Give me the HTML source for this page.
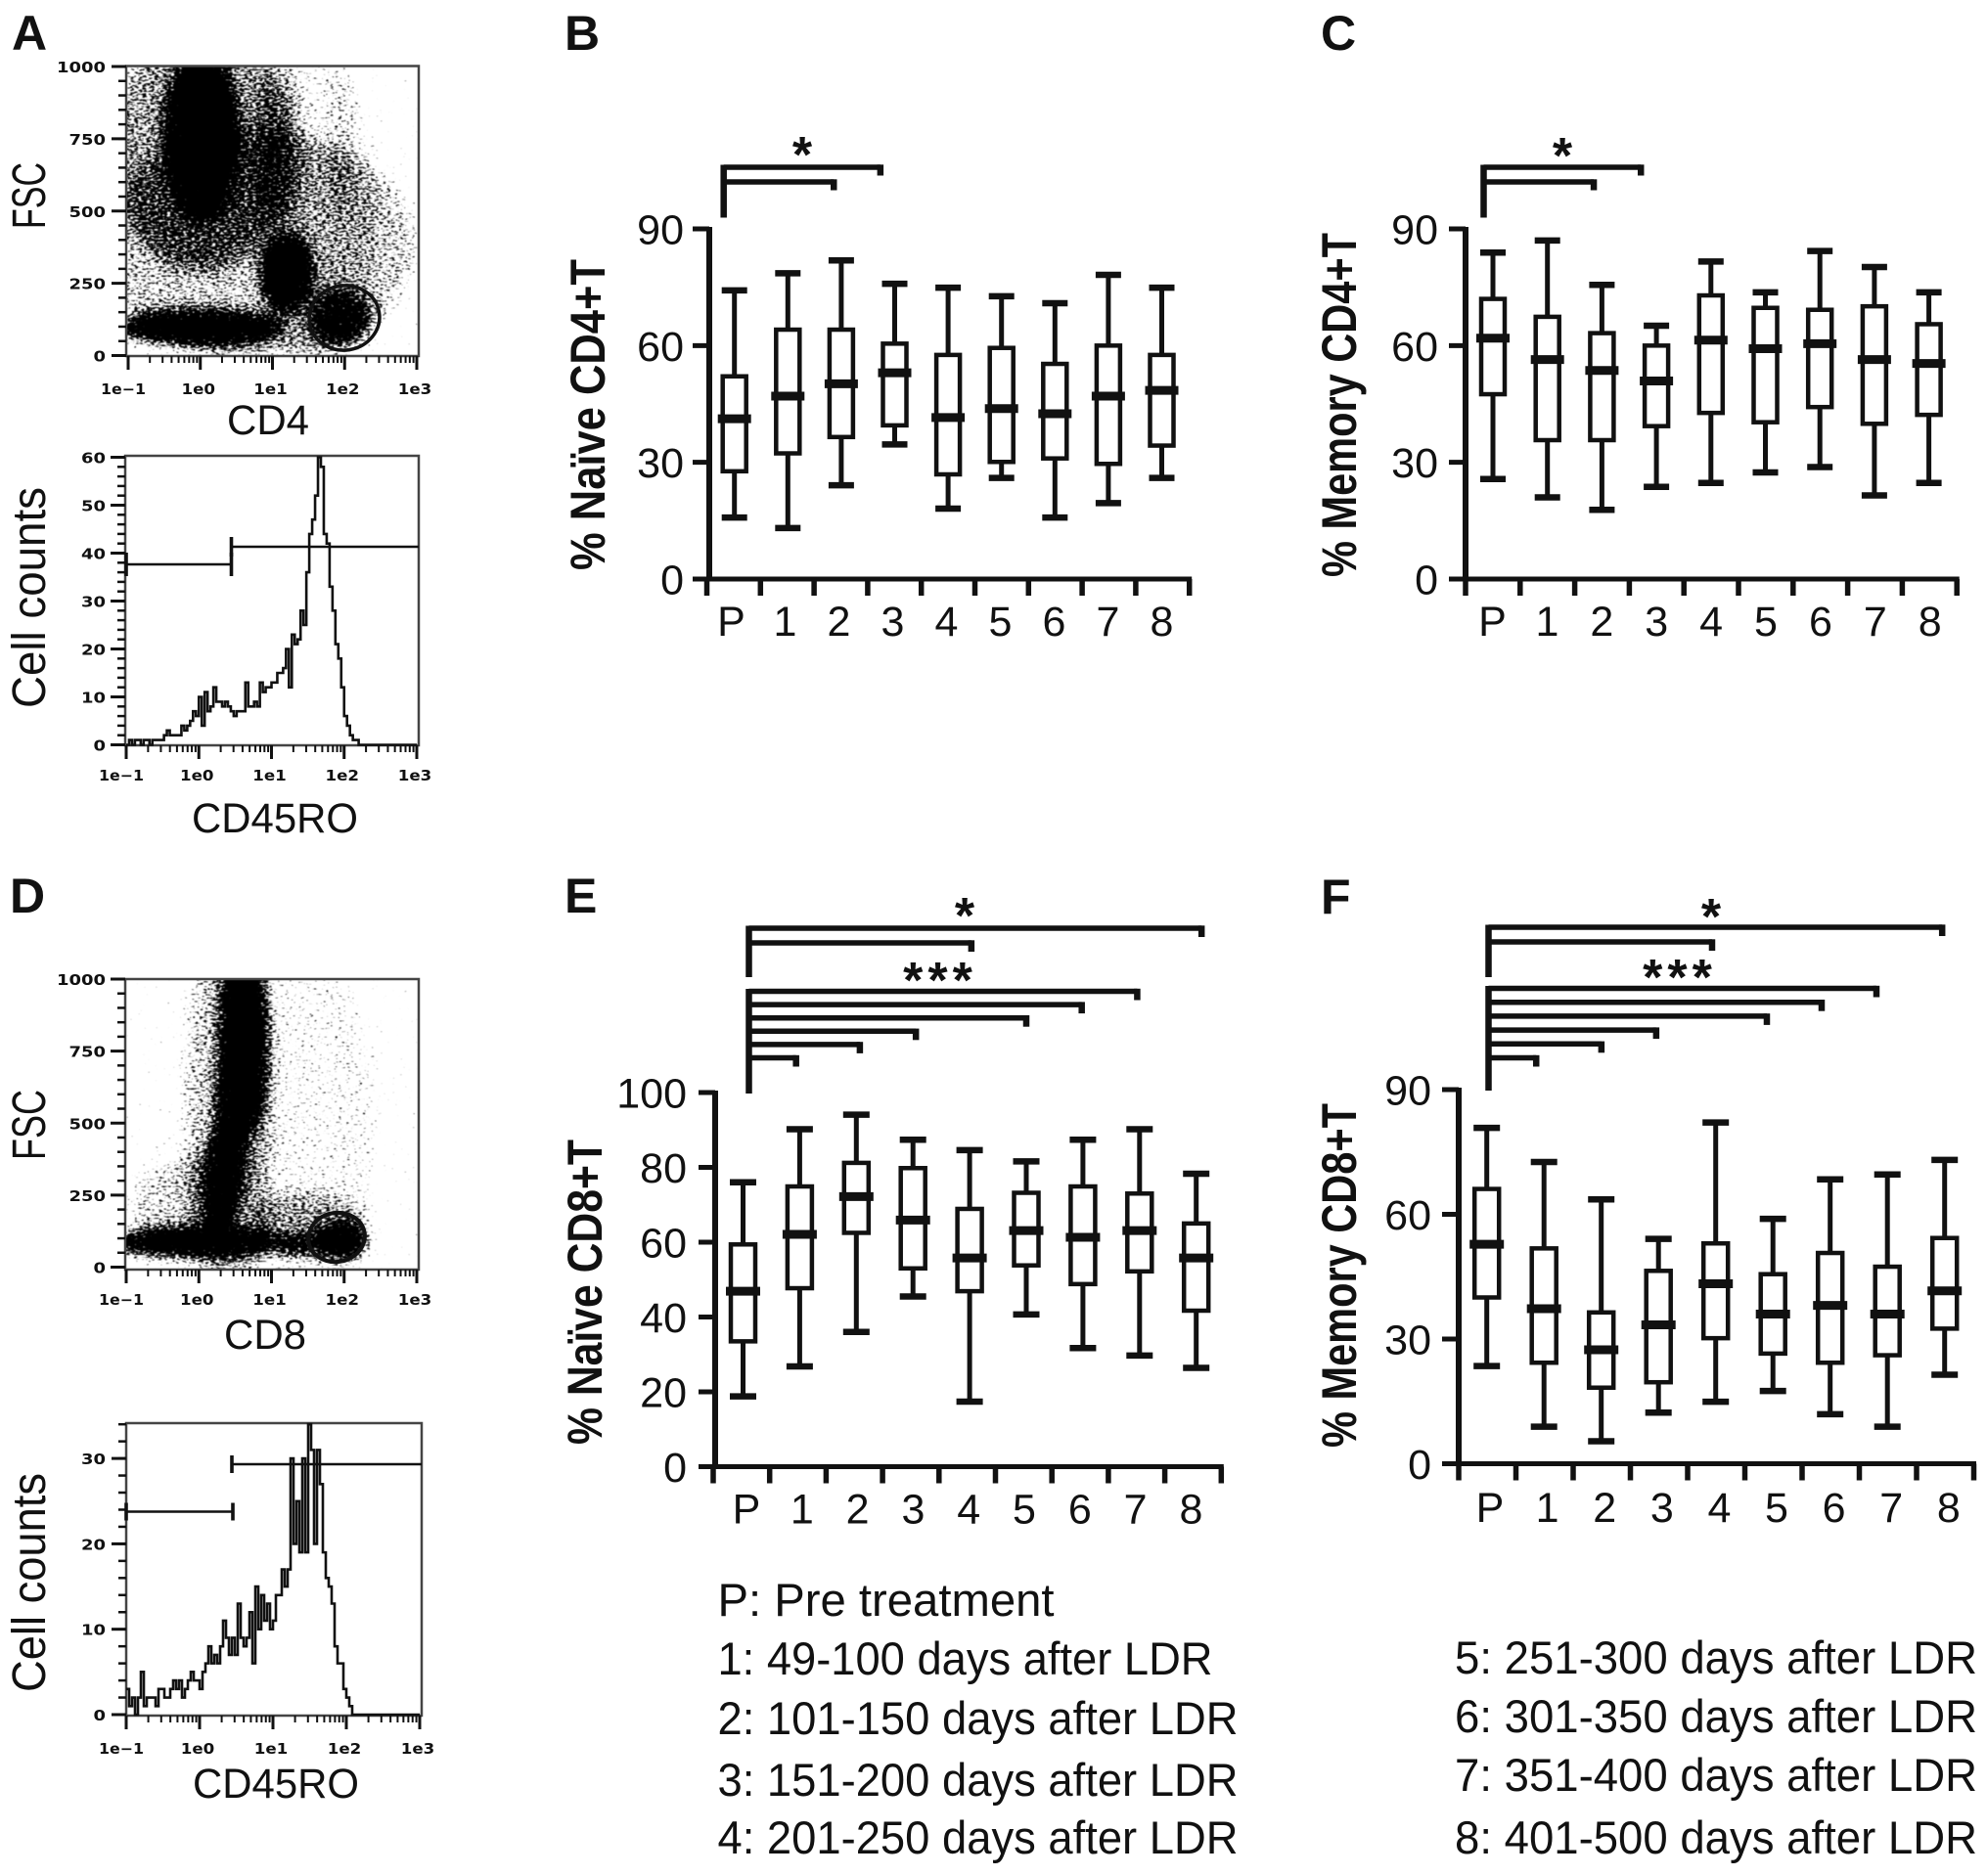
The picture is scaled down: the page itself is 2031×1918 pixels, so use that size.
<!DOCTYPE html>
<html lang="en">
<head>
<meta charset="utf-8">
<title>T cell subset flow cytometry and box plots</title>
<style>
html,body{margin:0;padding:0;background:#fff;}
svg{display:block;}
text{font-family:"Liberation Sans",sans-serif;fill:#111;}
.flow-tick{font-family:"DejaVu Sans",sans-serif;font-weight:bold;font-size:15px;}
</style>
</head>
<body>
<svg id="figure" xmlns="http://www.w3.org/2000/svg" width="2031" height="1918" viewBox="0 0 2031 1918">
<defs>
<filter id="density" filterUnits="userSpaceOnUse" x="100" y="40" width="360" height="1300" color-interpolation-filters="sRGB">
<feGaussianBlur in="SourceAlpha" stdDeviation="8" result="d"/>
<feTurbulence type="fractalNoise" baseFrequency="0.24 0.55" numOctaves="2" seed="7" result="n"/>
<feComposite in="d" in2="n" operator="arithmetic" k1="0" k2="0.8" k3="1" k4="-0.8" result="c"/>
<feColorMatrix in="c" type="matrix" values="0 0 0 0 0  0 0 0 0 0  0 0 0 0 0  0 0 0 9 0" result="s"/>
<feGaussianBlur in="s" stdDeviation="0.6"/>
</filter>
<clipPath id="clip-a"><rect x="129" y="68" width="299" height="296"/></clipPath>
<clipPath id="clip-d"><rect x="128" y="1001" width="300" height="297"/></clipPath>
</defs>
<g id="layer"></g>
</svg>
<script>
// ---------- categories and box plot values ----------
const groups = ['P','1','2','3','4','5','6','7','8'];

const bHigh   = [74.2,78.6,81.9,75.9,74.9,72.7,70.9,78.2,74.9];
const bQ3     = [52.1,64.1,64.1,60.5,57.6,59.4,55.3,60.0,57.6];
const bMedian = [41.2,47.0,50.2,53.0,41.5,43.8,42.5,47.0,48.5];
const bQ1     = [27.7,32.3,36.5,39.5,26.9,30.1,31.0,29.6,34.3];
const bLow    = [15.8,13.1,24.1,34.6,18.1,26.0,15.8,19.5,26.0];

const cHigh   = [83.9,87.0,75.6,65.1,81.6,73.7,84.3,80.2,73.7];
const cQ3     = [72.0,67.4,63.2,60.0,72.9,69.7,69.2,70.1,65.5];
const cMedian = [61.9,56.4,53.6,50.9,61.4,59.2,60.5,56.4,55.4];
const cQ1     = [47.5,35.7,35.7,39.3,42.7,40.3,44.2,39.9,42.2];
const cLow    = [25.7,21.0,17.8,23.7,24.7,27.4,28.8,21.5,24.7];

const eHigh   = [76.0,90.2,94.1,87.4,84.6,81.6,87.4,90.2,78.3];
const eQ3     = [59.4,74.9,81.2,79.8,68.9,73.2,74.9,73.0,65.0];
const eMedian = [46.9,62.1,72.2,65.9,55.8,63.1,61.3,63.1,55.8];
const eQ1     = [33.5,47.7,62.5,53.0,46.9,53.8,48.8,52.2,41.7];
const eLow    = [18.8,26.8,36.0,45.5,17.4,40.7,31.7,29.7,26.4];

const fHigh   = [80.8,72.6,63.6,54.1,82.1,58.9,68.4,69.6,73.1];
const fQ3     = [66.1,51.8,36.4,46.4,53.0,45.6,50.7,47.4,54.3];
const fMedian = [52.8,37.3,27.4,33.4,43.3,36.0,38.1,36.0,41.6];
const fQ1     = [40.0,24.3,18.3,19.6,30.2,26.5,24.3,26.1,32.5];
const fLow    = [23.5, 8.9, 5.4,12.3,14.9,17.5,11.9, 8.9,21.4];

const ticks90  = [0,30,60,90];
const ticks100 = [0,20,40,60,80,100];

// significance bracket end points, in group units from the bracket root
const bBracketEnds = [2.86,2.01];
const cBracketEnds = [2.87,2.01];
const eBracketEndsTop = [8.16,4.01];
const eBracketEndsLow = [7.0,6.0,5.0,3.01,2.0,0.85];
const fBracketEndsTop = [8.28,4.08];
const fBracketEndsLow = [7.08,6.08,5.08,3.06,2.06,0.87];

// ---------- histogram counts per 0.04-decade channel ----------
const histACounts = [0,1,0,1,1,0,1,1,0,1,1,1,1,2,3,2,2,2,2,4,3,4,5,7,6,10,4,11,7,8,12,9,9,8,9,8,7,6,7,7,7,13,8,8,9,8,13,11,12,12,13,13,15,15,16,20,12,23,21,22,28,25,36,44,47,52,60,58,44,42,33,28,21,18,12,6,4,2,1,1,0,0,0,0];
const histDCounts = [3,1,2,0,2,5,1,2,2,2,1,3,3,2,2,3,4,3,4,2,3,4,5,4,4,3,5,6,8,6,7,6,8,11,9,7,9,7,13,9,8,9,12,6,15,10,14,11,13,10,11,14,14,17,15,17,30,20,25,19,30,19,34,31,20,31,27,19,16,15,13,8,6,6,3,2,1,0];

// ---------- flow scatter density regions: log10 fluorescence, FSC, spreads, density ----------
const aRegionLog    = [0.8, 0.0, 0.02, 1.6, 1.95, 1.1, 1.2, 0.0, 1.95];
const aRegionFsc    = [380, 720, 760, 500, 750, 750, 285, 95, 125];
const aRegionLogSd  = [2.2, 1.25, 0.5, 0.85, 0.2, 0.34, 0.34, 1.15, 0.42];
const aRegionFscSd  = [400, 430, 290, 540, 290, 320, 135, 58, 100];
const aRegionDensity= [0.3, 0.4, 1.0, 0.14,0.14,0.26,1.0, 1.0, 0.72];

const dRegionLog    = [1.5, 0.4, -0.2, 1.5, 0.62, 0.45, 0.3, -0.05, 1.4, 1.97];
const dRegionFsc    = [480, 520, 210, 150, 800, 520, 270, 85, 78, 92];
const dRegionLogSd  = [0.95,0.62,0.75,0.8, 0.32,0.19,0.19,1.15,0.6, 0.34];
const dRegionFscSd  = [620, 720, 170, 115, 350, 330, 220, 50, 24, 62];
const dRegionDensity= [0.14,0.3, 0.26,0.3, 1.0, 1.0, 1.0, 1.0, 1.0, 1.0];

const fscTicks = [0,250,500,750,1000];
const logTicks = [-1,0,1,2,3];
const logTickLabels = ['1e\u22121','1e0','1e1','1e2','1e3'];
const histATicks = [0,10,20,30,40,50,60];
const histDTicks = [0,10,20,30];

const legendLeft = ['P: Pre treatment','1: 49-100 days after LDR','2: 101-150 days after LDR','3: 151-200 days after LDR','4: 201-250 days after LDR'];
const legendRight = ['5: 251-300 days after LDR','6: 301-350 days after LDR','7: 351-400 days after LDR','8: 401-500 days after LDR'];

// ---------- helpers ----------
const NS = 'http://www.w3.org/2000/svg';
const root = document.getElementById('layer');
function mk(tag, parent, attrs){
  const el = document.createElementNS(NS, tag);
  for (const k in attrs) el.setAttribute(k, attrs[k]);
  parent.appendChild(el);
  return el;
}
function line(parent,x1,y1,x2,y2,w,color){
  return mk('line',parent,{x1:x1,y1:y1,x2:x2,y2:y2,stroke:color||'#111','stroke-width':w});
}
function label(parent,str,x,y,attrs){
  const t = mk('text',parent,Object.assign({x:x,y:y},attrs||{}));
  t.textContent = str;
  return t;
}
function vlabel(parent,str,xBase,yMid,size,len,bold){
  const t = mk('text',parent,{transform:'translate('+xBase+' '+yMid+') rotate(-90)','text-anchor':'middle','font-size':size,'font-weight':bold?'bold':'normal',textLength:len,lengthAdjust:'spacingAndGlyphs'});
  t.textContent = str;
  return t;
}

// ---------- box plot panel ----------
function boxPanel(name,p,high,q3,med,q1,low,tickVals){
  const g = mk('g',root,{});
  
  
  const yOf = v => p.y0 - v*(p.y0-p.yTop)/p.max;
  const xOf = i => p.c0 + i*p.cStep;

  const yAxis = line(g,p.ax,p.yTop-2,p.ax,p.y0+2,6);
  
  
  const xEnd = p.tick0 + 9*p.tickStep;
  const xAxis = line(g,p.ax-2,p.y0,xEnd+2.5,p.y0,5);
  
  

  tickVals.forEach(v=>{
    const t = line(g,p.ax-17,yOf(v),p.ax,yOf(v),5);
    
    
    const l = label(g,String(v),p.yLabRight,yOf(v)+15.5,{'text-anchor':'end','font-size':43});
    
    
  });
  for(let i=0;i<10;i++){
    const x = p.tick0 + i*p.tickStep;
    const t = line(g,x,p.y0,x,p.y0+17,5.5);
    
    
  }
  groups.forEach((c,i)=>{
    const l = label(g,c,p.lab0+i*p.labStep,p.labBase,{'text-anchor':'middle','font-size':43});
    
    

    const x = xOf(i), w = p.boxW;
    const bg = mk('g',g,{});
    
    
    line(bg,x,yOf(high[i]),x,yOf(q3[i]),5);
    line(bg,x,yOf(q1[i]),x,yOf(low[i]),5);
    line(bg,x-w/2-1,yOf(high[i]),x+w/2+1,yOf(high[i]),6.5);
    line(bg,x-w/2-1,yOf(low[i]),x+w/2+1,yOf(low[i]),6.5);
    mk('rect',bg,{x:x-w/2,y:yOf(q3[i]),width:w,height:yOf(q1[i])-yOf(q3[i]),fill:'#fff',stroke:'#111','stroke-width':4.5});
    line(bg,x-w/2-5,yOf(med[i]),x+w/2+5,yOf(med[i]),9);
  });
  return g;
}
function brackets(name,parent,rootX,unit,ends,topY,stepY,bottomY,drop){
  const g = mk('g',parent,{});
  
  
  line(g,rootX,topY-2.5,rootX,bottomY,6.5);
  ends.forEach((e,i)=>{
    const y = topY + i*stepY, x = rootX + e*unit;
    line(g,rootX,y,x,y,5.5);
    line(g,x,y-2.7,x,y+drop,6.5);
  });
}
function stars(name,parent,str,x,yCenter){
  const t = label(parent,str,x,yCenter+29,{'text-anchor':'middle','font-size':52,'font-weight':'bold','letter-spacing':str.length>1?5:0});
  
  
}

const gb = boxPanel('panel-b',{ax:725,y0:592,yTop:234,max:90,tick0:722.5,tickStep:54.8,c0:750.7,cStep:54.6,lab0:747.5,labStep:55,labBase:650,yLabRight:699,boxW:24},bHigh,bQ3,bMedian,bQ1,bLow,ticks90);
brackets('panel-b-significance-brackets',gb,739.7,56,bBracketEnds,171,15,222.5,8.5);
stars('panel-b-significance-star',gb,'*',820,147);

const gc = boxPanel('panel-c',{ax:1498,y0:592,yTop:234,max:90,tick0:1498,tickStep:55.8,c0:1526,cStep:55.7,lab0:1525.5,labStep:55.9,labBase:650,yLabRight:1470,boxW:24},cHigh,cQ3,cMedian,cQ1,cLow,ticks90);
brackets('panel-c-significance-brackets',gc,1516.5,56,cBracketEnds,171,15,222.5,8.5);
stars('panel-c-significance-star',gc,'*',1597,148);

const ge = boxPanel('panel-e',{ax:731,y0:1499.5,yTop:1117,max:100,tick0:729,tickStep:57.7,c0:759.5,cStep:57.9,lab0:763,labStep:56.8,labBase:1557.5,yLabRight:702,boxW:25},eHigh,eQ3,eMedian,eQ1,eLow,ticks100);
brackets('panel-e-brackets-upper',ge,765.5,56.7,eBracketEndsTop,949,15,999,9);
brackets('panel-e-brackets-lower',ge,765.5,56.7,eBracketEndsLow,1013.5,13.6,1118,9);
stars('panel-e-significance-star',ge,'*',986,925);
stars('panel-e-significance-stars',ge,'***',961,991);

const gf = boxPanel('panel-f',{ax:1491,y0:1496.5,yTop:1114,max:90,tick0:1491,tickStep:58.5,c0:1519.7,cStep:58.5,lab0:1523,labStep:58.6,labBase:1556,yLabRight:1463,boxW:25},fHigh,fQ3,fMedian,fQ1,fLow,ticks90);
brackets('panel-f-brackets-upper',gf,1521.5,56,fBracketEndsTop,948,15,999,9);
brackets('panel-f-brackets-lower',gf,1521.5,56,fBracketEndsLow,1010.5,14.2,1115,9);
stars('panel-f-significance-star',gf,'*',1749,926);
stars('panel-f-significance-stars',gf,'***',1717,988);

// ---------- flow axes ----------
function flowAxes(name,f,yTicks,minorStep,yMax,frame){
  const g = mk('g',root,{});
  
  
  const fr = mk('rect',g,{x:frame.x,y:frame.y,width:frame.w,height:frame.h,fill:'none',stroke:'#444','stroke-width':frame.sw});
  
  
  for(let v=0;v<=yMax+0.01;v+=minorStep){
    line(g,frame.x-8,f.y0-v*f.unit,frame.x,f.y0-v*f.unit,2.5);
  }
  yTicks.forEach(v=>{
    const y = f.y0-v*f.unit;
    line(g,frame.x-15,y,frame.x,y,3);
    const l = label(g,String(v),108,y+6,{'class':'flow-tick','text-anchor':'end',textLength:String(v).length*12.5,lengthAdjust:'spacingAndGlyphs'});
    
    
  });
  logTicks.forEach((d,i)=>{
    const x = f.x0+(d+1)*f.dec;
    line(g,x,frame.y+frame.h,x,frame.y+frame.h+14,3);
    if(d<3){
      [2,3,4,5,6,7,8,9].forEach(m=>{
        const mx = x+Math.log10(m)*f.dec;
        line(g,mx,frame.y+frame.h,mx,frame.y+frame.h+7,2);
      });
    }
    const txt = logTickLabels[i];
    const l = label(g,txt,x-(i===0?5:2),f.labBase,{'class':'flow-tick','text-anchor':'middle',textLength:txt.length*11.5,lengthAdjust:'spacingAndGlyphs'});
    
    
  });
}

// ---------- flow scatter ----------
function scatter(name,f,clip,logs,fscs,logSd,fscSd,dens){
  const outer = mk('g',root,{'clip-path':'url(#'+clip+')'});
  
  
  const cloud = mk('g',outer,{filter:'url(#density)'});
  logs.forEach((l,i)=>{
    const r = mk('ellipse',cloud,{cx:f.x0+(l+1)*f.dec,cy:f.y0-fscs[i]*f.unit,rx:logSd[i]*f.dec,ry:fscSd[i]*f.unit,fill:'#000','fill-opacity':dens[i]});
    
    
  });
}
const fa = {x0:131,dec:73.75,y0:363.5,unit:0.2955,labBase:403};
const fd = {x0:129,dec:74.25,y0:1295.5,unit:0.2945,labBase:1334};
scatter('panel-a',fa,'clip-a',aRegionLog,aRegionFsc,aRegionLogSd,aRegionFscSd,aRegionDensity);
scatter('panel-d',fd,'clip-d',dRegionLog,dRegionFsc,dRegionLogSd,dRegionFscSd,dRegionDensity);
flowAxes('panel-a-scatter',fa,fscTicks,50,1000,{x:129,y:67.5,w:299,h:296.5,sw:2.5});
flowAxes('panel-d-scatter',fd,fscTicks,50,1000,{x:128,y:1001,w:300,h:297,sw:2.5});

const gateA = mk('ellipse',root,{cx:352,cy:325,rx:36,ry:33,fill:'none',stroke:'#111','stroke-width':3.5,transform:'rotate(-10 352 325)'});


const gateD = mk('ellipse',root,{cx:344,cy:1265,rx:29,ry:25,fill:'none',stroke:'#111','stroke-width':4,transform:'rotate(-10 344 1265)'});



// ---------- histograms ----------
function histogram(name,h,counts){
  const bin = 0.04;
  const yOf = v => h.y0 - v*h.unit;
  let d = 'M'+h.x0+' '+yOf(counts[0]);
  counts.forEach((v,i)=>{
    const x1 = h.x0 + (i+1)*bin*h.dec;
    d += ' V'+yOf(v)+' H'+x1;
  });
  d += ' V'+h.y0+' H'+(h.x0+4*h.dec);
  const p = mk('path',root,{d:d,fill:'none',stroke:'#111','stroke-width':2.6});
  
  
}
const ha = {x0:129,dec:74.25,y0:761.5,unit:4.9,labBase:798};
const hd = {x0:129,dec:75,y0:1753,unit:8.73,labBase:1793};
flowAxes('panel-a-histogram',ha,histATicks,2,60,{x:128,y:466,w:300,h:296,sw:2.5});
flowAxes('panel-d-histogram',hd,histDTicks,2,34,{x:129,y:1455,w:302,h:299,sw:2.5});
histogram('panel-a',ha,histACounts);
histogram('panel-d',hd,histDCounts);

function gate(name,x1,x2,y,capHalf,rightCap){
  const g = mk('g',root,{});
  
  
  line(g,x1,y,x2,y,2.6);
  line(g,x1,y-capHalf,x1,y+capHalf,3.6);
  if(rightCap) line(g,x2,y-capHalf,x2,y+capHalf,3.6);
}
gate('panel-a-gate-negative',129,236.5,577,12,true);
gate('panel-a-gate-positive',236.5,428,559,10,false);
gate('panel-d-gate-negative',129,238,1545.5,9,true);
gate('panel-d-gate-positive',237,431,1497,9,false);

// ---------- axis titles ----------
const titles = mk('g',root,{});


let tt;
tt = vlabel(titles,'% Na\u00efve CD4+T',618,424,50,318,true);


tt = vlabel(titles,'% Memory CD4+T',1386,414,50,352,true);


tt = vlabel(titles,'% Na\u00efve CD8+T',615,1321,50,312,true);


tt = vlabel(titles,'% Memory CD8+T',1386,1304,50,352,true);


tt = vlabel(titles,'FSC',46,200,48,68,false);


tt = vlabel(titles,'Cell counts',46,611,48,226,false);


tt = vlabel(titles,'FSC',46,1150,48,72,false);


tt = vlabel(titles,'Cell counts',46,1618,48,224,false);



tt = label(titles,'CD4',274,444,{'text-anchor':'middle','font-size':43,textLength:84,lengthAdjust:'spacingAndGlyphs'});


tt = label(titles,'CD45RO',281,851,{'text-anchor':'middle','font-size':43,textLength:170,lengthAdjust:'spacingAndGlyphs'});


tt = label(titles,'CD8',271,1379,{'text-anchor':'middle','font-size':43,textLength:84,lengthAdjust:'spacingAndGlyphs'});


tt = label(titles,'CD45RO',282,1838,{'text-anchor':'middle','font-size':43,textLength:170,lengthAdjust:'spacingAndGlyphs'});



// ---------- panel letters ----------
const letters = [['A',12,51],['B',577,51],['C',1350,51],['D',10,933],['E',577,933],['F',1350,934]];
letters.forEach(a=>{
  const t = label(root,a[0],a[1],a[2],{'font-size':50,'font-weight':'bold'});
  
  
});

// ---------- legend ----------
const legendG = mk('g',root,{});


const leftBase = [1652,1712,1773,1836,1895];
const leftLen = [344,506,532,532,532];
legendLeft.forEach((s,i)=>{
  const t = label(legendG,s,733.5,leftBase[i],{'font-size':47,textLength:leftLen[i],lengthAdjust:'spacingAndGlyphs'});
  
  
});
const rightBase = [1711,1771,1831,1895];
legendRight.forEach((s,i)=>{
  const t = label(legendG,s,1487,rightBase[i],{'font-size':47,textLength:534,lengthAdjust:'spacingAndGlyphs'});
  
  
});
</script>
</body>
</html>
